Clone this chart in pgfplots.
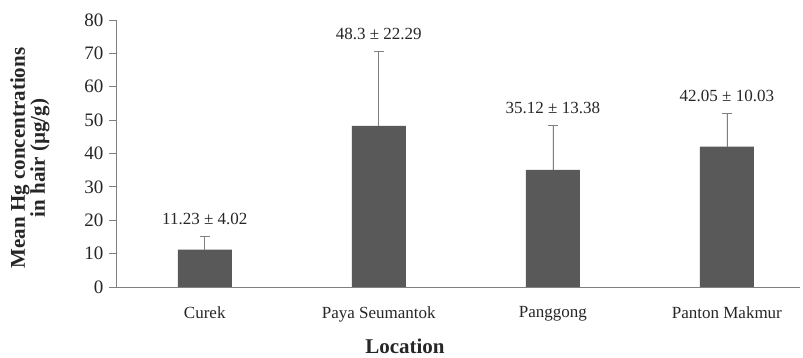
\documentclass[border=0pt]{standalone}
\usepackage{pgfplots}
\pgfplotsset{compat=1.18}
\usepackage{fontspec}
\setmainfont{Liberation Serif}
\definecolor{barfill}{HTML}{595959}
\definecolor{axisgray}{HTML}{808080}
\begin{document}
\begin{tikzpicture}
\begin{axis}[
  scale only axis,
  width=684pt, height=267pt,
  xmin=-0.51, xmax=3.42, ymin=0, ymax=80,
  axis x line*=bottom, axis y line*=left,
  axis line style={-, draw=axisgray, line width=0.8pt},
  xtick={0,1,2,3},
  xticklabels={Curek, Paya Seumantok, Panggong, Panton Makmur},
  x tick style={draw=none},
  ytick={0,10,...,80},
  y tick style={draw=axisgray, line width=0.8pt},
  tick align=outside, major tick length=7pt,
  /pgf/number format/assume math mode=true,
  xticklabel style={font=\fontsize{17}{20}\selectfont, text=black!85, yshift=-9pt},
  yticklabel style={font=\fontsize{19}{22}\selectfont, text=black!85, xshift=-2pt},
  xlabel={\textbf{Location}},
  ylabel={\textbf{Mean Hg concentrations}\\\textbf{in hair (µg/g)}},
  ylabel style={at={(axis description cs:-0.1257,0.483)}, anchor=center,
    align=center, font=\fontsize{21}{20}\selectfont, text=black!85},
  xlabel style={at={(axis description cs:0.4225,-0.25)}, anchor=base, inner sep=1pt,
    font=\fontsize{21}{22}\selectfont, text=black!85},
  clip=false,
]
\addplot[ybar, bar width=54pt, fill=barfill, draw=none,
  error bars/.cd, y dir=plus, y explicit,
  error bar style={line width=0.7pt, draw=axisgray},
  error mark options={rotate=90, mark size=5pt, line width=0.7pt, draw=axisgray}]
  coordinates {(0,11.23) +- (0,4.02) (1,48.3) +- (0,22.29) (2,35.12) +- (0,13.38) (3,42.05) +- (0,10.03)};
\addplot[draw=none, mark=none, nodes near coords, point meta=explicit symbolic,
  nodes near coords style={font=\fontsize{17}{20}\selectfont, text=black!85, anchor=south, yshift=8pt}]
  coordinates {(0,15.25) [11.23 ± 4.02] (1,70.59) [48.3 ± 22.29] (2,48.50) [35.12 ± 13.38] (3,52.08) [42.05 ± 10.03]};
\end{axis}
\pgfresetboundingbox
\path[use as bounding box] (current axis.south west) ++(-116pt,-71pt) rectangle ++(803pt,358pt);
\end{tikzpicture}
\end{document}
